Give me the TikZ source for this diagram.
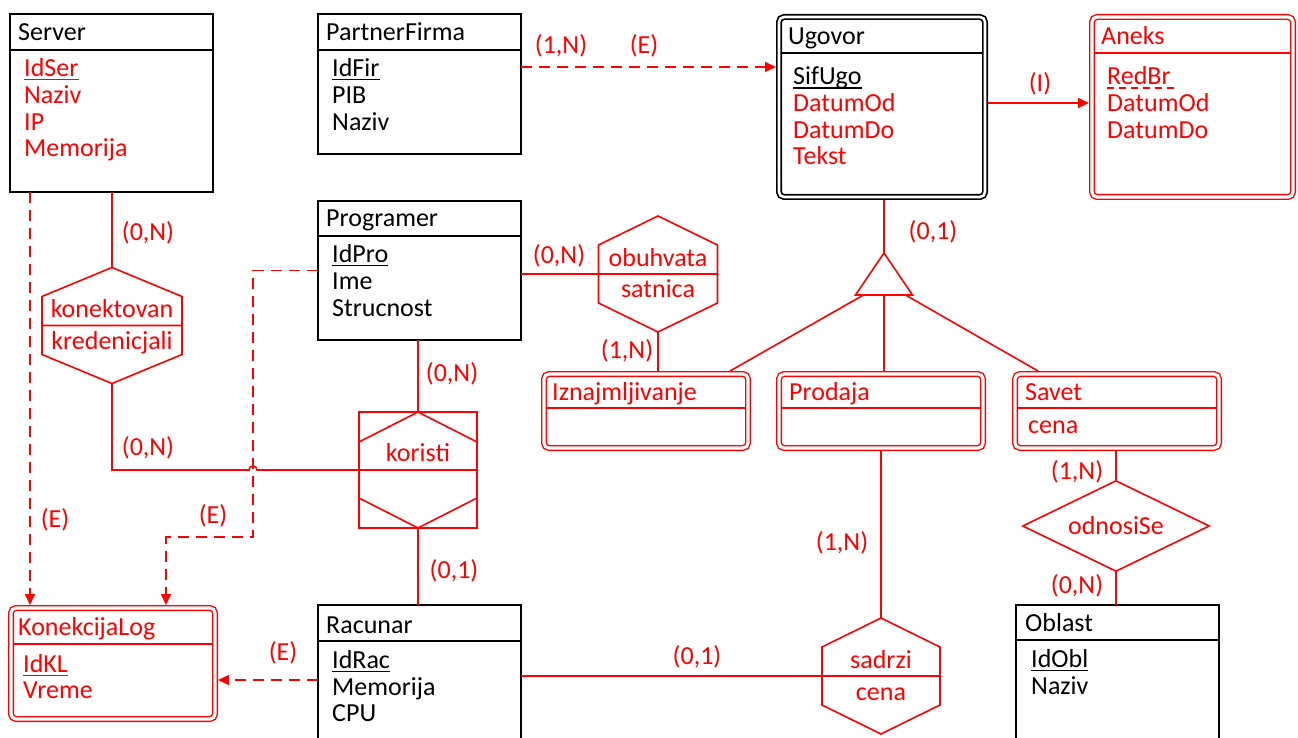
\documentclass[tikz,border=0pt]{standalone}
\usepackage{fontspec}
\setmainfont{Carlito}
\usetikzlibrary{arrows.meta,shapes.geometric}

% hexagon (relationship) drawn round an empty node, with its middle line
\newcommand{\relhex}[2]{%
  \draw[rline] (#1.north) -- ([yshift=-#2]#1.north east) -- ([yshift=#2]#1.south east)
    -- (#1.south) -- ([yshift=#2]#1.south west) -- ([yshift=-#2]#1.north west) -- cycle
    (#1.west) -- (#1.east);}

\tikzset{
  ent/.style={draw, line width=1.8pt, inner sep=0pt, outer sep=0pt, anchor=north west},
  went/.style={draw=red, double, line width=1.4pt, double distance=3.2pt, rounded corners=5pt,
    inner sep=0pt, outer sep=3pt, anchor=north west},
  ttl/.style args={#1/#2}{path picture={\draw[#2, line width=1.6pt]
    ([yshift=-#1]path picture bounding box.north west) -- ([yshift=-#1]path picture bounding box.north east);}},
  txt/.style={inner sep=0pt, text height=16.5pt, text depth=0pt, anchor=west},
  rtxt/.style={inner sep=0pt, text height=16.5pt, text depth=0pt, red},
  ul/.style={line width=1.3pt},
  hexbox/.style={inner sep=0pt, outer sep=0pt},
  rline/.style={red, line width=1.6pt},
  isaline/.style={red, line width=1.6pt, dash pattern=on 11pt off 7pt, -{Triangle[length=11pt, width=10pt]}},
}

\begin{document}
\begin{tikzpicture}[x=1pt, y=-1pt, font=\fontsize{26}{30}\selectfont]
\useasboundingbox (0,0) rectangle (1298,738);

% entities
\node[ent, minimum width=203pt, minimum height=178pt, ttl=36pt/black] (srv) at (10,14) {};
\node[txt] (srvT) at (18,32) {Server};
\foreach \a [count=\i] in {IdSer,Naziv,IP,Memorija}
  \node[txt, red] (srv-\i) at (24,{68+26.9*(\i-1)}) {\a};
\draw[ul, red] ([yshift=-3pt]srv-1.south west) -- ([yshift=-3pt]srv-1.south east);

\node[ent, minimum width=203pt, minimum height=140pt, ttl=36pt/black] (pf) at (318,14) {};
\node[txt] (pfT) at (326,32) {PartnerFirma};
\foreach \a [count=\i] in {IdFir,PIB,Naziv}
  \node[txt] (pf-\i) at (332,{68+27*(\i-1)}) {\a};
\draw[ul] ([yshift=-3pt]pf-1.south west) -- ([yshift=-3pt]pf-1.south east);

\node[ent, minimum width=203pt, minimum height=139pt, ttl=35pt/black] (prog) at (318,201) {};
\node[txt] (progT) at (326,218) {Programer};
\foreach \a [count=\i] in {IdPro,Ime,Strucnost}
  \node[txt] (prog-\i) at (332,{254+27*(\i-1)}) {\a};
\draw[ul] ([yshift=-3pt]prog-1.south west) -- ([yshift=-3pt]prog-1.south east);

\node[ent, minimum width=203pt, minimum height=160pt, ttl=36pt/black] (rac) at (318,605) {};
\node[txt] (racT) at (326,625) {Racunar};
\foreach \a [count=\i] in {IdRac,Memorija,CPU}
  \node[txt] (rac-\i) at (332,{660+26.8*(\i-1)}) {\a};
\draw[ul] ([yshift=-3pt]rac-1.south west) -- ([yshift=-3pt]rac-1.south east);

\node[ent, minimum width=203pt, minimum height=160pt, ttl=35pt/black] (obl) at (1016,605) {};
\node[txt] (oblT) at (1025,623) {Oblast};
\foreach \a [count=\i] in {IdObl,Naziv}
  \node[txt] (obl-\i) at (1031,{659+27.5*(\i-1)}) {\a};
\draw[ul] ([yshift=-3pt]obl-1.south west) -- ([yshift=-3pt]obl-1.south east);

\node[went, draw=black, line width=1.7pt, double distance=2.6pt, minimum width=206pt, minimum height=180pt,
  ttl=36pt/black] (ug) at (776,14) {};
\node[txt] (ugT) at (788,36) {Ugovor};
\foreach \a [count=\i] in {\textcolor{black}{SifUgo},DatumOd,DatumDo,Tekst}
  \node[txt, red] (ug-\i) at (793,{76.5+26.7*(\i-1)}) {\a};
\draw[ul] ([yshift=-3pt]ug-1.south west) -- ([yshift=-3pt]ug-1.south east);

\node[went, minimum width=201pt, minimum height=180pt, ttl=36pt/red] (an) at (1089,14) {};
\node[txt, red] (anT) at (1101,36) {Aneks};
\foreach \a [count=\i] in {RedBr,DatumOd,DatumDo}
  \node[txt, red] (an-\i) at (1107,{76.5+26.7*(\i-1)}) {\a};
\draw[ul, red, dash pattern=on 7pt off 5pt] ([yshift=-3pt]an-1.south west) -- ([xshift=5pt, yshift=-3pt]an-1.south east);

\node[went, minimum width=204pt, minimum height=74pt, ttl=34pt/red] (izn) at (541,371) {};
\node[txt, red] (iznT) at (552,392) {Iznajmljivanje};
\node[went, minimum width=204pt, minimum height=74pt, ttl=34pt/red] (prod) at (776,371) {};
\node[txt, red] (prodT) at (789,392) {Prodaja};
\node[went, minimum width=204pt, minimum height=74pt, ttl=34pt/red] (sav) at (1012,371) {};
\node[txt, red] (savT) at (1025,392) {Savet};
\node[txt, red] (sav-1) at (1028,425) {cena};

\node[went, minimum width=204pt, minimum height=111pt, ttl=36pt/red] (klog) at (8,605) {};
\node[txt, red] (klogT) at (18,627) {KonekcijaLog};
\foreach \a [count=\i] in {IdKL,Vreme}
  \node[txt, red] (klog-\i) at (23,{664+26.5*(\i-1)}) {\a};
\draw[ul, red] ([yshift=-3pt]klog-1.south west) -- ([yshift=-3pt]klog-1.south east);

% relationships
\node[hexbox, minimum width=140pt, minimum height=116pt] (kon) at (112,325.5) {};
\relhex{kon}{29pt}
\node[rtxt] (konT) at (112,309) {konektovan};
\node[rtxt] (konA) at (112,341) {kredenicjali};

\node[hexbox, minimum width=119pt, minimum height=116pt] (obu) at (658,274) {};
\relhex{obu}{29pt}
\node[rtxt] (obuT) at (658,258) {obuhvata};
\node[rtxt] (obuA) at (658,289) {satnica};

\node[hexbox, minimum width=118pt, minimum height=116pt] (sad) at (881,676) {};
\relhex{sad}{29pt}
\node[rtxt] (sadT) at (881,660) {sadrzi};
\node[rtxt] (sadA) at (881,692) {cena};

\node[hexbox, draw, rline, minimum width=118pt, minimum height=116pt] (kor) at (418,470) {};
\relhex{kor}{30pt}
\node[rtxt] (korT) at (418,453) {koristi};

\node[rline, diamond, draw, aspect=2, minimum width=187pt, minimum height=91pt, inner sep=0pt] (ods) at (1116,526) {odnosiSe};

\node[hexbox, minimum width=57pt, minimum height=42pt] (isa) at (884,274) {};
\draw[rline] (isa.north) -- (isa.south east) -- (isa.south west) -- cycle;

% connectors
\coordinate (hop) at (253,470);
\coordinate (pfU) at (0,67);
\coordinate (anU) at (0,103);
\coordinate (srvE) at (30,0);
\coordinate (progE) at (253,537);
\coordinate (klogE) at (166,0);
\coordinate (racE) at (0,680);

\draw[rline] (srv.south -| kon.north) -- (kon.north);
\draw[rline] (kon.south) |- ([xshift=-4pt]hop) arc[start angle=180, end angle=0, radius=4pt] -- (kor.west);
\draw[rline] (prog.south -| kor.north) -- (kor.north);
\draw[rline] (kor.south) -- (kor.south |- rac.north);
\draw[rline] (prog.east |- obu.west) -- (obu.west);
\draw[rline] (obu.south) -- (obu.south |- izn.north);
\draw[rline] (ug.south -| isa.north) -- (isa.north);
\draw[rline] ([xshift=8pt]isa.south west) -- ([xshift=84pt]izn.north);
\draw[rline] (isa.south) -- (isa.south |- prod.north);
\draw[rline] ([xshift=-7pt]isa.south east) -- ([xshift=-79pt]sav.north);
\draw[rline] (prod.south -| sad.north) -- (sad.north);
\draw[rline] (rac.east |- sad.west) -- (sad.west);
\draw[rline] (sav.south -| ods.north) -- (ods.north);
\draw[rline] (ods.south) -- (ods.south |- obl.north);
\draw[rline, -{Triangle[length=11pt, width=10pt]}] (ug.east |- anU) -- (an.west |- anU);
\draw[isaline] (pf.east |- pfU) -- (ug.west |- pfU);
\draw[isaline] (srv.south -| srvE) -- (klog.north -| srvE);
\draw[isaline] (prog.west) -| (progE) -| (klog.north -| klogE);
\draw[isaline] (rac.west |- racE) -- (klog.east |- racE);

% cardinalities
\node[rtxt] (c1) at (148,232) {(0,N)};
\node[rtxt] (c2) at (148,447) {(0,N)};
\node[rtxt] (c3) at (452,373) {(0,N)};
\node[rtxt] (c4) at (454,570) {(0,1)};
\node[rtxt] (c5) at (559,255) {(0,N)};
\node[rtxt] (c6) at (627,350) {(1,N)};
\node[rtxt] (c7) at (933,231) {(0,1)};
\node[rtxt] (c8) at (842,542) {(1,N)};
\node[rtxt] (c9) at (697,656) {(0,1)};
\node[rtxt] (c10) at (1077,471) {(1,N)};
\node[rtxt] (c11) at (1077,585) {(0,N)};
\node[rtxt] (c12) at (1040,83) {(I)};
\node[rtxt] (c13) at (561,45) {(1,N)};
\node[rtxt] (c14) at (644,45) {(E)};
\node[rtxt] (c15) at (55,519) {(E)};
\node[rtxt] (c16) at (213,515) {(E)};
\node[rtxt] (c17) at (283,652) {(E)};
\end{tikzpicture}
\end{document}
